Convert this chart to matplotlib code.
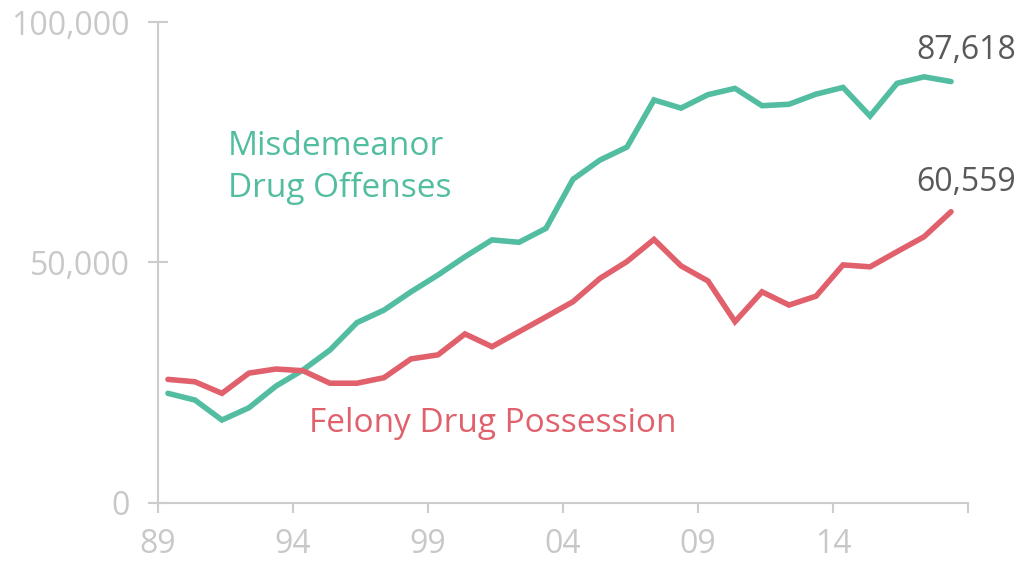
import matplotlib.pyplot as plt
import numpy as np

plt.rcParams['font.family'] = ['Open Sans', 'DejaVu Sans']

# arrests per year, 1989 - 2018
years = np.arange(1989, 2019)
misdemeanor = [22800, 21400, 17250, 19800, 24300, 27650, 31800, 37500, 40100, 43900,
               47400, 51200, 54700, 54200, 57100, 67300, 71300, 74000, 83800, 82100,
               84900, 86200, 82600, 82900, 85000, 86400, 80450, 87250, 88600, 87618]
felony = [25700, 25200, 22800, 27000, 27850, 27500, 24900, 24900, 26050, 29950,
          30800, 35150, 32500, 35600, 38700, 41850, 46700, 50200, 54800, 49300,
          46150, 37700, 43900, 41150, 43000, 49500, 49100, 52250, 55350, 60559]
tick_years = [1989, 1994, 1999, 2004, 2009, 2014, 2019]
tick_labels = ['89', '94', '99', '04', '09', '14', '']

GREEN = '#52BDA0'
RED = '#E0616C'
AXIS = '#CCCCCC'
TICKTXT = '#C8C8C8'

fig = plt.figure(figsize=(10.27, 5.63), dpi=100)
ax = fig.add_axes([0.1538, 0.1066, 0.7888, 0.8543])

x = years + 0.37  # points sit a little right of the year ticks
ax.plot(x, misdemeanor, color=GREEN, lw=4, solid_capstyle='round', solid_joinstyle='miter')
ax.plot(x, felony, color=RED, lw=4, solid_capstyle='round', solid_joinstyle='miter')

ax.set_xlim(1989, 2019)
ax.set_ylim(0, 100000)
ax.set_xticks(tick_years)
ax.set_xticklabels(tick_labels)
ax.set_yticks([0, 50000, 100000])
ax.set_yticklabels(['0', '50,000', '100,000'])

for s in ['top', 'right']:
    ax.spines[s].set_visible(False)
for s in ['left', 'bottom']:
    ax.spines[s].set_color(AXIS)
    ax.spines[s].set_linewidth(1.5)

ax.tick_params(axis='y', direction='inout', length=15, width=1.5, color=AXIS,
               labelcolor=TICKTXT, labelsize=23, pad=13)
ax.tick_params(axis='x', direction='out', length=7, width=1.5, color=AXIS,
               labelcolor=TICKTXT, labelsize=23, pad=11)

ax.text(1991.6, 69800, 'Misdemeanor\nDrug Offenses', color=GREEN, fontsize=24,
        ha='left', va='center', linespacing=1.35)
ax.text(1994.6, 16600, 'Felony Drug Possession', color=RED, fontsize=24,
        ha='left', va='center')

ax.text(x[-1] + 0.55, 94000, f'{misdemeanor[-1]:,}', color='#595959', fontsize=23,
        ha='center', va='center', clip_on=False)
ax.text(x[-1] + 0.55, 66700, f'{felony[-1]:,}', color='#595959', fontsize=23,
        ha='center', va='center', clip_on=False)

fig.savefig('out.png', dpi=100)
